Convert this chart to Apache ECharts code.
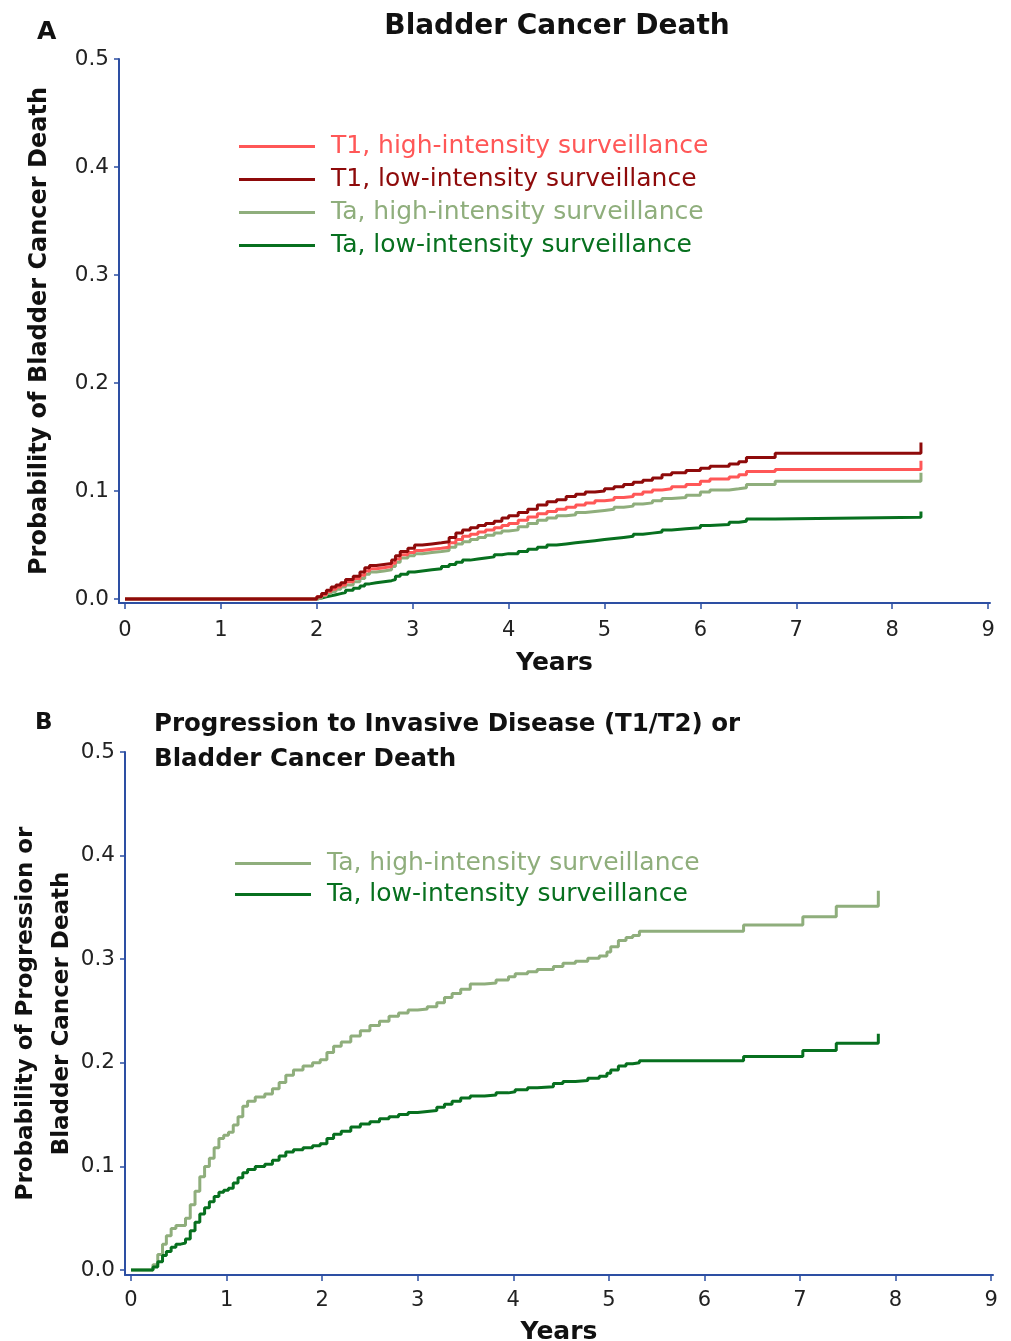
<!DOCTYPE html>
<html><head><meta charset="utf-8">
<script src="https://cdn.jsdelivr.net/npm/echarts@6/dist/echarts.min.js"></script>
<style>html,body{margin:0;padding:0;background:#fff}#c{width:1011px;height:1341px}</style>
</head><body><div id="c"></div>
<script>
// ---- Panel A: Bladder Cancer Death ----
const timeA = [0,2.0,2.05,2.1,2.15,2.2,2.25,2.3,2.38,2.45,2.5,2.55,2.62,2.7,2.78,2.82,2.87,2.95,3.02,3.1,3.2,3.3,3.38,3.45,3.52,3.6,3.68,3.76,3.85,3.93,4.0,4.1,4.2,4.3,4.4,4.5,4.6,4.7,4.8,4.9,5.0,5.1,5.2,5.3,5.4,5.5,5.6,5.7,5.85,6.0,6.1,6.3,6.4,6.48,6.78,8.3,8.3];
const t1High = [0,0.002,0.004,0.007,0.009,0.011,0.013,0.016,0.019,0.022,0.026,0.028,0.029,0.030,0.033,0.037,0.041,0.043,0.045,0.046,0.047,0.048,0.052,0.055,0.058,0.060,0.062,0.064,0.066,0.068,0.070,0.073,0.076,0.079,0.081,0.083,0.085,0.087,0.089,0.091,0.092,0.094,0.095,0.097,0.099,0.101,0.102,0.104,0.106,0.109,0.111,0.113,0.115,0.118,0.120,0.120,0.128];
const t1Low = [0,0.002,0.005,0.008,0.011,0.013,0.015,0.018,0.021,0.025,0.029,0.031,0.032,0.033,0.036,0.040,0.044,0.047,0.050,0.051,0.052,0.053,0.057,0.061,0.064,0.066,0.068,0.070,0.072,0.075,0.077,0.080,0.083,0.087,0.090,0.092,0.095,0.097,0.099,0.100,0.102,0.104,0.106,0.108,0.110,0.112,0.115,0.117,0.119,0.121,0.123,0.125,0.127,0.131,0.135,0.135,0.145];
const taHighA = [0,0.001,0.003,0.005,0.007,0.009,0.011,0.013,0.016,0.019,0.023,0.025,0.026,0.027,0.030,0.034,0.038,0.040,0.042,0.043,0.044,0.045,0.048,0.051,0.053,0.055,0.057,0.059,0.061,0.063,0.064,0.067,0.070,0.073,0.075,0.077,0.078,0.080,0.081,0.082,0.083,0.085,0.086,0.088,0.089,0.091,0.093,0.094,0.096,0.099,0.101,0.102,0.103,0.106,0.109,0.109,0.117];
const taLowA = [0,0.001,0.002,0.003,0.004,0.005,0.006,0.008,0.010,0.012,0.014,0.015,0.016,0.017,0.018,0.021,0.023,0.025,0.026,0.027,0.028,0.030,0.032,0.034,0.036,0.037,0.038,0.039,0.041,0.042,0.042,0.044,0.046,0.048,0.050,0.051,0.052,0.053,0.054,0.055,0.056,0.057,0.058,0.060,0.061,0.062,0.064,0.065,0.066,0.068,0.069,0.071,0.072,0.074,0.0756,0.0756,0.081];

// ---- Panel B: Progression or Bladder Cancer Death ----
const timeB = [0,0.23,0.28,0.33,0.37,0.42,0.47,0.52,0.57,0.62,0.67,0.72,0.77,0.82,0.87,0.92,0.97,1.02,1.07,1.12,1.17,1.22,1.3,1.4,1.48,1.55,1.62,1.7,1.8,1.9,1.98,2.05,2.12,2.2,2.3,2.4,2.5,2.6,2.7,2.8,2.9,3.0,3.1,3.2,3.28,3.36,3.45,3.55,3.7,3.82,3.95,4.02,4.15,4.25,4.42,4.52,4.65,4.78,4.9,4.98,5.02,5.1,5.18,5.25,5.32,6.41,7.03,7.38,7.82,7.82];
const taHighB = [0,0.005,0.015,0.025,0.033,0.040,0.043,0.043,0.050,0.063,0.076,0.090,0.100,0.108,0.118,0.127,0.130,0.133,0.140,0.148,0.158,0.163,0.167,0.170,0.175,0.181,0.188,0.193,0.197,0.200,0.203,0.210,0.216,0.220,0.226,0.231,0.236,0.240,0.245,0.248,0.251,0.252,0.254,0.258,0.263,0.267,0.271,0.276,0.277,0.280,0.283,0.286,0.288,0.290,0.293,0.296,0.298,0.301,0.303,0.307,0.312,0.318,0.321,0.323,0.327,0.333,0.341,0.351,0.351,0.366];
const taLowB = [0,0.003,0.008,0.014,0.018,0.022,0.025,0.026,0.030,0.038,0.046,0.054,0.060,0.066,0.071,0.075,0.077,0.079,0.084,0.089,0.094,0.097,0.100,0.102,0.106,0.110,0.114,0.116,0.118,0.120,0.122,0.127,0.131,0.134,0.138,0.141,0.143,0.146,0.148,0.150,0.152,0.153,0.154,0.157,0.160,0.163,0.166,0.168,0.169,0.171,0.172,0.174,0.176,0.177,0.180,0.182,0.183,0.185,0.187,0.190,0.193,0.197,0.199,0.200,0.202,0.206,0.212,0.219,0.219,0.228];

const xTicks = [0,1,2,3,4,5,6,7,8,9];
const yTicks = [0,0.1,0.2,0.3,0.4,0.5];

const namesA = ['T1, high-intensity surveillance','T1, low-intensity surveillance','Ta, high-intensity surveillance','Ta, low-intensity surveillance'];
const colors = {'T1, high-intensity surveillance':'#ff5757','T1, low-intensity surveillance':'#8e0a0a','Ta, high-intensity surveillance':'#8fae7c','Ta, low-intensity surveillance':'#07701f'};

const zip = (t, v) => t.map((x, i) => [x, v[i]]);
const FONT = '"DejaVu Sans", Verdana, sans-serif';
const AX = '#2d4fa3';

function xAxis(gi, min, gap, margin) {
  return {
    type: 'value', gridIndex: gi, min: min, max: 9.02,
    axisLine: {show: true, onZero: false, lineStyle: {color: AX, width: 2}},
    axisTick: {show: true, length: 6, customValues: xTicks, lineStyle: {color: AX, width: 1.5}},
    axisLabel: {color: '#222', fontSize: 21, fontFamily: FONT, margin: margin, customValues: xTicks},
    splitLine: {show: false},
    name: 'Years', nameLocation: 'middle', nameGap: gap,
    nameTextStyle: {fontSize: 25, fontWeight: 'bold', color: '#111', fontFamily: FONT}
  };
}
function yAxis(gi, min, name, gap, lh, fs) {
  return {
    type: 'value', gridIndex: gi, min: min, max: 0.5,
    axisLine: {show: true, onZero: false, lineStyle: {color: AX, width: 2}},
    axisTick: {show: true, length: 5, customValues: yTicks, lineStyle: {color: AX, width: 1.5}},
    axisLabel: {color: '#222', fontSize: 21.5, fontFamily: FONT, margin: 10, customValues: yTicks, formatter: v => v.toFixed(1)},
    splitLine: {show: false},
    name: name, nameLocation: 'middle', nameGap: gap, nameMoveOverlap: false,
    nameTextStyle: {fontSize: fs, fontWeight: 'bold', color: '#111', fontFamily: FONT, lineHeight: lh}
  };
}
function line(name, data, gi) {
  return {
    type: 'line', name: name, step: 'end', xAxisIndex: gi, yAxisIndex: gi,
    data: data, showSymbol: false, symbol: 'none', animation: false,
    lineStyle: {width: 3, color: colors[name]}, itemStyle: {color: colors[name]}
  };
}
function legendItems(names) {
  return names.map(n => ({name: n, textStyle: {color: colors[n]}}));
}

const chart = echarts.init(document.getElementById('c'), null, {renderer: 'canvas'});
chart.setOption({
  backgroundColor: '#fff',
  animation: false,
  title: [
    {text: 'A', left: 32, top: 15, textStyle: {fontSize: 25, fontWeight: 'bold', color: '#111', fontFamily: FONT}},
    {text: 'Bladder Cancer Death', left: 552, textAlign: 'center', top: 8, textStyle: {fontSize: 28, fontWeight: 'bold', color: '#111', fontFamily: FONT}},
    {text: 'B', left: 30, top: 707, textStyle: {fontSize: 23, fontWeight: 'bold', color: '#111', fontFamily: FONT}},
    {text: 'Progression to Invasive Disease (T1/T2) or\nBladder Cancer Death', left: 149, top: 702, textStyle: {fontSize: 24.5, fontWeight: 'bold', color: '#111', fontFamily: FONT, lineHeight: 35}}
  ],
  grid: [
    {left: 119, top: 59, width: 871, height: 544, outerBoundsMode: 'none'},
    {left: 125, top: 752, width: 868, height: 523, outerBoundsMode: 'none'}
  ],
  xAxis: [xAxis(0, -0.0626, 48, 17), xAxis(1, -0.0628, 45, 15)],
  yAxis: [yAxis(0, -0.0037, 'Probability of Bladder Cancer Death', 64, 30, 24),
          yAxis(1, -0.0048, 'Probability of Progression or\nBladder Cancer Death', 45, 36, 23)],
  legend: [
    {data: legendItems(namesA), left: 239, top: 134, padding: 0, orient: 'vertical', icon: 'rect', itemWidth: 76, itemHeight: 3, itemGap: 8,
     textStyle: {fontSize: 25, lineHeight: 25, fontFamily: FONT, padding: [0,0,0,11]}, selectedMode: false},
    {data: legendItems(namesA.slice(2)), left: 235, top: 851, padding: 0, orient: 'vertical', icon: 'rect', itemWidth: 76, itemHeight: 3, itemGap: 6,
     textStyle: {fontSize: 25, lineHeight: 25, fontFamily: FONT, padding: [0,0,0,11]}, selectedMode: false}
  ],
  series: [
    line(namesA[3], zip(timeA, taLowA), 0),
    line(namesA[2], zip(timeA, taHighA), 0),
    line(namesA[0], zip(timeA, t1High), 0),
    line(namesA[1], zip(timeA, t1Low), 0),
    line(namesA[2], zip(timeB, taHighB), 1),
    line(namesA[3], zip(timeB, taLowB), 1)
  ]
});
</script></body></html>
